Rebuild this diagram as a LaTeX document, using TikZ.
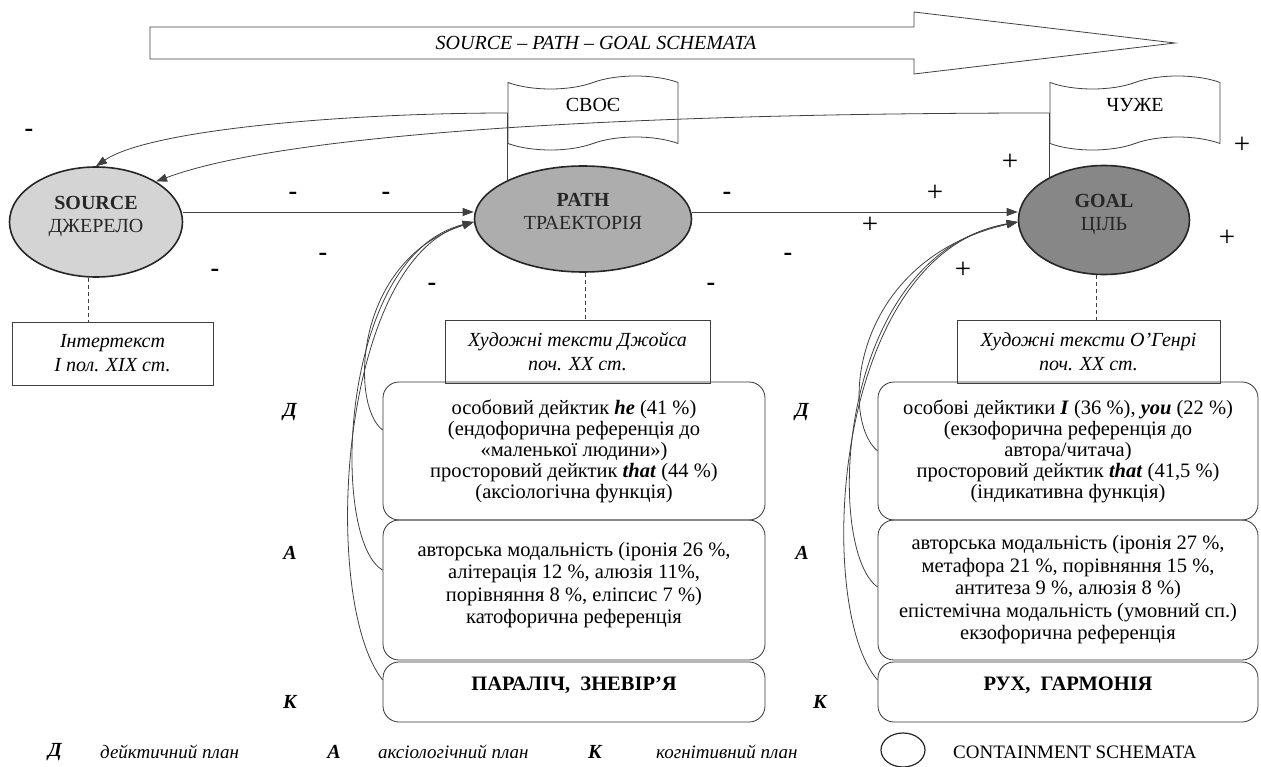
\documentclass[tikz,border=0pt]{standalone}
\usepackage{fontspec}
\setmainfont{Liberation Serif}
\usetikzlibrary{shapes.geometric,shapes.symbols,arrows.meta}
\begin{document}
\begin{tikzpicture}[x=1pt,y=-1pt,
  ln/.style={draw=black!75, line width=0.8pt},
  arr/.style={ln, -{Triangle[length=11pt,width=8pt]}},
  ell/.style={ellipse, draw=black!85, line width=1.6pt, inner sep=0pt, align=center,
     text=black!85, font=\fontsize{20}{23}\selectfont, text depth=16pt},
  tbox/.style={rectangle, draw=black!75, line width=0.8pt, inner sep=0pt, align=center,
     font=\fontsize{20}{24}\selectfont\itshape},
  rbox/.style={rectangle, draw=black!80, line width=0.8pt, rounded corners=16pt,
     inner sep=0pt, align=center},
  dtext/.style={font=\fontsize{20.5}{21}\selectfont},
  atext/.style={font=\fontsize{20.5}{22.5}\selectfont},
  tapebox/.style={tape, draw=black!75, line width=0.8pt, minimum width=170pt,
     minimum height=74pt, tape bend height=13pt, font=\fontsize{20}{23}\selectfont,
     inner sep=0pt, text depth=16pt},
  mn/.style={font=\fontsize{26}{26}\selectfont\bfseries, inner sep=0pt},
  pl/.style={font=\fontsize{29}{29}\selectfont, inner sep=0pt},
  lab/.style={font=\fontsize{20}{20}\selectfont\bfseries\itshape, inner sep=0pt},
  lgd/.style={font=\fontsize{19}{20}\selectfont\itshape, inner sep=0pt, anchor=west},
]
\useasboundingbox (0,0) rectangle (1261,767);

% big arrow
\draw[ln] (150,27) -- (914,27) -- (914,12) -- (1175,43) -- (914,74) -- (914,59) -- (150,59) -- cycle;
\node[font=\fontsize{20}{22}\selectfont\itshape] (sch) at (596,43) {SOURCE -- PATH -- GOAL SCHEMATA};

% tapes
\node[tapebox] (svoe) at (593,113) {СВОЄ};
\node[tapebox] (chuzhe) at (1135,113) {ЧУЖЕ};

% ellipses
\node[ell, fill=black!17, minimum width=173pt, minimum height=110pt] (src) at (96,222) {\textbf{SOURCE}\\ДЖЕРЕЛО};
\node[ell, fill=black!32, minimum width=217pt, minimum height=106pt] (path) at (583,219) {\textbf{PATH}\\ТРАЕКТОРІЯ};
\node[ell, fill=black!47, minimum width=171pt, minimum height=109pt] (goal) at (1104,220) {\textbf{GOAL}\\ЦІЛЬ};

% text boxes
\node[tbox, minimum width=201pt, minimum height=63pt] (srcbox) at (112.5,353.5) {Інтертекст\\І пол. ХІХ ст.};
\node[tbox, minimum width=265pt, minimum height=63pt] (pathbox) at (577.5,351.5) {Художні тексти Джойса\\поч. ХХ ст.};
\node[tbox, minimum width=263pt, minimum height=63pt] (goalbox) at (1088.5,351.5) {Художні тексти О’Генрі\\поч. ХХ ст.};

% rounded boxes PATH
\node[rbox, dtext, minimum width=382pt, minimum height=138pt] (pd) at (574,451)
 {особовий дейктик \textbf{\textit{he}} (41 \%)\\(ендофорична референція до\\«маленької людини»)\\просторовий дейктик \textbf{\textit{that}} (44 \%)\\(аксіологічна функція)};
\node[rbox, atext, minimum width=382pt, minimum height=140pt, text depth=14pt] (pa) at (574,590)
 {авторська модальність (іронія 26 \%,\\алітерація 12 \%, алюзія 11\%,\\порівняння 8 \%, еліпсис 7 \%)\\катофорична референція};
\node[rbox, dtext, minimum width=382pt, minimum height=60pt, text depth=16pt] (pk) at (574,692)
 {\textbf{ПАРАЛІЧ,\ \ ЗНЕВІР’Я}};

% rounded boxes GOAL
\node[rbox, dtext, minimum width=380pt, minimum height=138pt] (gd) at (1068,451)
 {особові дейктики \textbf{\textit{I}} (36 \%), \textbf{\textit{you}} (22 \%)\\(екзофорична референція до\\автора/читача)\\просторовий дейктик \textbf{\textit{that}} (41,5 \%)\\(індикативна функція)};
\node[rbox, atext, minimum width=380pt, minimum height=140pt] (ga) at (1068,590)
 {авторська модальність (іронія 27 \%,\\метафора 21 \%, порівняння 15 \%,\\антитеза 9 \%, алюзія 8 \%)\\епістемічна модальність (умовний сп.)\\екзофорична референція};
\node[rbox, dtext, minimum width=380pt, minimum height=60pt, text depth=16pt] (gk) at (1068,692)
 {\textbf{РУХ,\ \ ГАРМОНІЯ}};

% main arrows
\draw[arr] ([yshift=10pt]src.east) -- ([yshift=7pt]path.west);
\draw[arr] ([yshift=7pt]path.east) -- ([yshift=8pt]goal.west);

% top curved arrows
\draw[arr] (svoe.west) .. controls +(-158,0) and +(54,-37) .. (src.north);
\draw[arr] (chuzhe.west) .. controls +(-350,0) and +(145,-54) .. (src.34);
\draw[ln] (svoe.west) -- (svoe.west |- path.153);
\draw[ln] (chuzhe.west) -- (chuzhe.west |- goal.142);

% dashed
\draw[ln, dash pattern=on 4pt off 3pt] ([xshift=-8pt]src.south) -- ([xshift=-8pt]src.south |- srcbox.north);
\draw[ln, dash pattern=on 4pt off 3pt] ([xshift=2pt]path.south) -- ([xshift=2pt]path.south |- pathbox.north);
\draw[ln, dash pattern=on 4pt off 3pt] ([xshift=-8pt]goal.south) -- ([xshift=-8pt]goal.south |- goalbox.north);

% curved arrows PATH
\draw[arr] ([yshift=21pt]pd.west) .. controls +(-33,-25) and +(-120,38) .. ([yshift=-3pt]path.west);
\draw[arr] ([yshift=20pt]pa.west) .. controls +(-53,-30) and +(-135,33) .. ([yshift=-3pt]path.west);
\draw[arr] ([yshift=12pt]pk.west) .. controls +(-63,-80) and +(-135,38) .. ([yshift=-3pt]path.west);
% curved arrows GOAL
\draw[arr] (gd.west) .. controls +(-38,-31) and +(-168,38) .. ([yshift=-2pt]goal.west);
\draw[arr] ([yshift=3pt]ga.west) .. controls +(-53,-37) and +(-183,33) .. ([yshift=-2pt]goal.west);
\draw[arr] ([yshift=12pt]gk.west) .. controls +(-63,-70) and +(-188,33) .. ([yshift=-2pt]goal.west);

% signs
\node[mn] (m1) at (29,133) {-};
\node[mn] (m2) at (293,196) {-};
\node[mn] (m3) at (386,196) {-};
\node[mn] (m4) at (215,273) {-};
\node[mn] (m5) at (323,257) {-};
\node[mn] (m6) at (432,287) {-};
\node[mn] (m7) at (727,196) {-};
\node[mn] (m8) at (788,257) {-};
\node[mn] (m9) at (711,287) {-};
\node[pl] (p1) at (935,193) {+};
\node[pl] (p2) at (870,225) {+};
\node[pl] (p3) at (963,270) {+};
\node[pl] (p4) at (1010,162) {+};
\node[pl] (p5) at (1242,145) {+};
\node[pl] (p6) at (1227,238) {+};

% side labels
\node[lab] (ld1) at (290,412) {Д};
\node[lab] (la1) at (290,553) {А};
\node[lab] (lk1) at (290,702) {К};
\node[lab] (ld2) at (802,412) {Д};
\node[lab] (la2) at (802,553) {А};
\node[lab] (lk2) at (820,702) {К};

% legend
\node[lab] (lgD) at (55,752) {Д};
\node[lgd] (lgDt) at (100,752) {дейктичний план};
\node[lab] (lgA) at (334,752) {А};
\node[lgd] (lgAt) at (378,752) {аксіологічний план};
\node[lab] (lgK) at (595,752) {К};
\node[lgd] (lgKt) at (656,752) {когнітивний план};
\node[ellipse, draw=black!85, line width=1.2pt, minimum width=44pt, minimum height=34pt] (lgE) at (903,750) {};
\node[font=\fontsize{19}{20}\selectfont, inner sep=0pt, anchor=west] (lgEt) at (953,752) {CONTAINMENT SCHEMATA};
\end{tikzpicture}
\end{document}
